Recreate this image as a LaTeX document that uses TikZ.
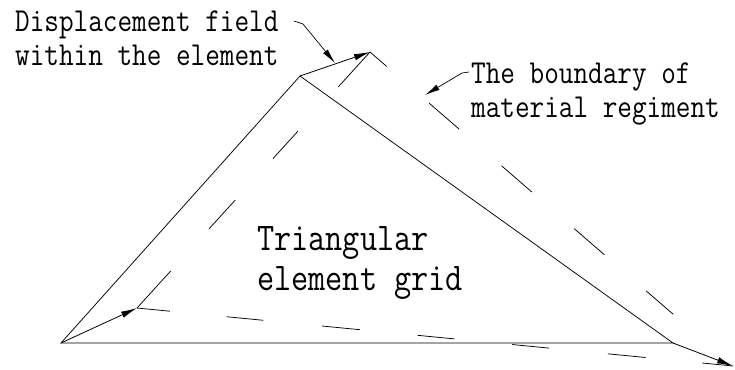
\documentclass[tikz,border=0pt]{standalone}
\usepackage{graphicx}
\usetikzlibrary{arrows.meta}
\newcommand{\tallt}[1]{\scalebox{1}[1.18]{#1}}
\tikzset{
  edge/.style={line width=0.75pt, black},
  disp/.style={line width=0.8pt, black, -{Latex[length=16pt,width=6.5pt]}},
  lead/.style={line width=0.7pt, black, -{Latex[length=15pt,width=6pt]}},
  lbl/.style={anchor=base west, inner sep=0pt, font=\fontsize{28.4}{30}\ttfamily},
  biglbl/.style={anchor=base west, inner sep=0pt, font=\fontsize{33.3}{35}\ttfamily},
}
\begin{document}
\begin{tikzpicture}[x=1pt,y=-1pt]
\useasboundingbox (0,0) rectangle (735,369);
% original element
\coordinate (A) at (61,343);
\coordinate (B) at (300,76);
\coordinate (C) at (673,343);
% displaced nodes
\coordinate (A2) at (137,308);
\coordinate (B2) at (370,52);
\coordinate (C2) at (733,366);
\draw[edge] (A) -- (B) -- (C) -- cycle;
% boundary of material regiment (dashed)
\draw[edge, dash pattern=on 50pt off 57pt on 39pt off 56pt on 37pt off 60pt on 47pt off 10pt] (A2) -- (B2);
\draw[edge, dash pattern=on 22pt off 56pt on 40pt off 56pt on 40pt off 56pt on 40pt off 55pt on 36pt off 90pt] (B2) -- (C2);
\draw[edge, dash pattern=on 33pt off 57pt on 37pt off 59pt on 38pt off 58pt on 37pt off 58pt on 37pt off 59pt on 38pt off 57pt on 33pt off 10pt] (A2) -- (C2);
% displacement vectors
\draw[disp] (A) -- (A2);
\draw[disp] (B) -- (B2);
\draw[disp] (C) -- (C2);
% labels
\node[lbl] (d1) at (15,32) {\tallt{Displacement field}};
\node[lbl] (d2) at (15,65) {\tallt{within the element}};
\node[lbl] (m1) at (471,83) {\tallt{The boundary of}};
\node[lbl] (m2) at (471,117) {\tallt{material regiment}};
\node[biglbl] (t1) at (257,250) {\tallt{Triangular}};
\node[biglbl] (t2) at (257,290) {\tallt{element grid}};
% leaders
\coordinate (dl0) at (294,21);
\coordinate (dl1) at (303,24);
\coordinate (dlt) at (335,63);
\draw[lead] (dl0) -- (dl1) -- (dlt);
\coordinate (ml0) at (469,72);
\coordinate (ml1) at (462,73);
\coordinate (mlt) at (425,95);
\draw[lead] (ml0) -- (ml1) -- (mlt);
\end{tikzpicture}
\end{document}
